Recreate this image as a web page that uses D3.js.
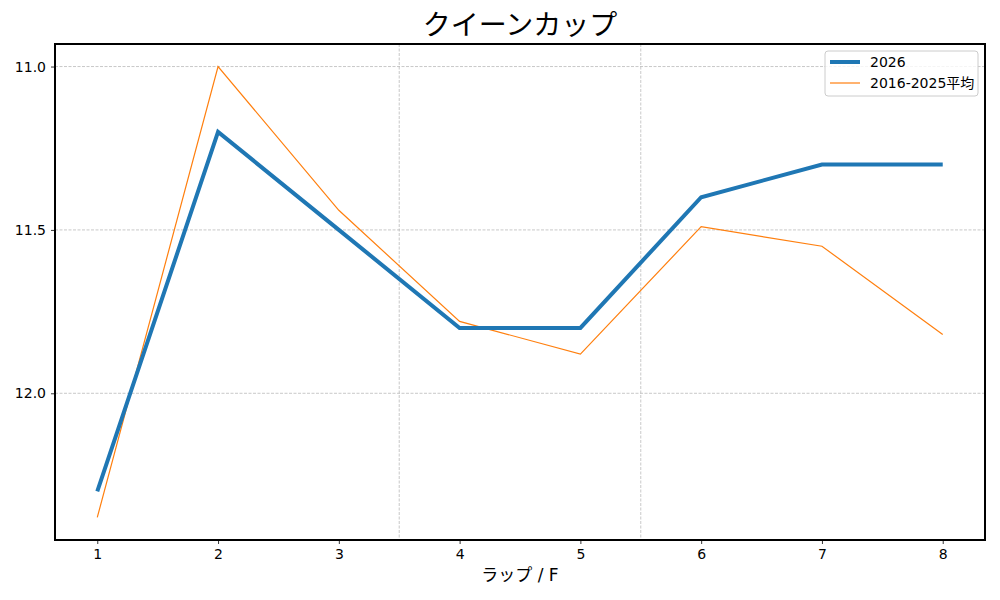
<!DOCTYPE html>
<html>
<head>
<meta charset="utf-8">
<script src="https://cdn.jsdelivr.net/npm/d3@7"></script>
<style>
  body { margin: 0; background: #fff; }
  text { font-family: "DejaVu Sans", "Noto Sans CJK JP", sans-serif; fill: #000; }
</style>
</head>
<body>
<div id="chart"></div>
<script>
// Chart data
const laps = [1, 2, 3, 4, 5, 6, 7, 8];
const times2026 = [12.3, 11.2, 11.5, 11.8, 11.8, 11.4, 11.3, 11.3];
const timesAvg = [12.38, 11.0, 11.44, 11.78, 11.88, 11.49, 11.55, 11.82];
const yTicks = [11.0, 11.5, 12.0];
const vLines = [3.5, 5.5];
const seriesNames = ['2026', '2016-2025平均'];

const W = 1000, H = 600;
const margin = { top: 44, right: 15, bottom: 60, left: 55 };
const width = W - margin.left - margin.right;
const height = H - margin.top - margin.bottom;

const svg = d3.select('#chart').append('svg')
  .attr('width', W).attr('height', H);

const g = svg.append('g')
  .attr('transform', `translate(${margin.left},${margin.top})`);

// x with matplotlib-style 5% padding
const xPad = (d3.max(laps) - d3.min(laps)) * 0.05;
const x = d3.scaleLinear()
  .domain([d3.min(laps) - xPad, d3.max(laps) + xPad])
  .range([0, width]);

// y inverted (faster lap at top)
const allY = times2026.concat(timesAvg);
const yPad = (d3.max(allY) - d3.min(allY)) * 0.05;
const y = d3.scaleLinear()
  .domain([d3.min(allY) - yPad, d3.max(allY) + yPad])
  .range([0, height]);

// grid lines
g.selectAll('.hgrid').data(yTicks).enter().append('line')
  .attr('x1', 0).attr('x2', width)
  .attr('y1', d => y(d)).attr('y2', d => y(d))
  .attr('stroke', '#b0b0b0').attr('stroke-width', 0.7)
  .attr('stroke-dasharray', '3,1.5');

g.selectAll('.vgrid').data(vLines).enter().append('line')
  .attr('x1', d => x(d)).attr('x2', d => x(d))
  .attr('y1', 0).attr('y2', height)
  .attr('stroke', '#b0b0b0').attr('stroke-width', 0.7)
  .attr('stroke-dasharray', '3,1.5');

// lines
const line = d3.line().x(d => x(d[0])).y(d => y(d[1]));

g.append('path')
  .datum(laps.map((l, i) => [l, timesAvg[i]]))
  .attr('d', line)
  .attr('fill', 'none')
  .attr('stroke', '#ff7f0e')
  .attr('stroke-width', 1.2);

g.append('path')
  .datum(laps.map((l, i) => [l, times2026[i]]))
  .attr('d', line)
  .attr('fill', 'none')
  .attr('stroke', '#1f77b4')
  .attr('stroke-width', 4);

// axes
const xAxis = g.append('g')
  .attr('transform', `translate(0,${height})`)
  .call(d3.axisBottom(x).tickValues(laps).tickFormat(d3.format('d')).tickSize(4).tickPadding(5));
const yAxis = g.append('g')
  .call(d3.axisLeft(y).tickValues(yTicks).tickFormat(d3.format('.1f')).tickSize(4).tickPadding(5));

[xAxis, yAxis].forEach(a => {
  a.select('.domain').remove();
  a.selectAll('.tick line').attr('stroke', '#000').attr('stroke-width', 0.8);
  a.selectAll('.tick text').attr('font-size', 14).attr('fill', '#000')
    .style('font-family', '"DejaVu Sans", sans-serif');
});

// frame
g.append('rect')
  .attr('width', width).attr('height', height)
  .attr('fill', 'none').attr('stroke', '#000').attr('stroke-width', 1.2)
  .attr('shape-rendering', 'crispEdges');

// title and axis label
svg.append('text')
  .attr('x', margin.left + width / 2).attr('y', 35)
  .attr('text-anchor', 'middle')
  .attr('font-size', 28)
  .style('font-family', '"Noto Sans CJK JP", sans-serif')
  .text('クイーンカップ');

svg.append('text')
  .attr('x', margin.left + width / 2).attr('y', 581)
  .attr('text-anchor', 'middle')
  .attr('font-size', 17)
  .text('ラップ / F');

// legend
const leg = g.append('g').attr('transform', `translate(${width - 160},7)`);
leg.append('rect')
  .attr('width', 153).attr('height', 45).attr('rx', 3)
  .attr('fill', '#fff').attr('fill-opacity', 0.8)
  .attr('stroke', '#ccc');
const legColors = ['#1f77b4', '#ff7f0e'];
const legWidths = [4, 1.2];
seriesNames.forEach((name, i) => {
  const ly = 11 + i * 21;
  leg.append('line')
    .attr('x1', 5).attr('x2', 35).attr('y1', ly).attr('y2', ly)
    .attr('stroke', legColors[i]).attr('stroke-width', legWidths[i]);
  leg.append('text')
    .attr('x', 45).attr('y', ly + 5)
    .attr('font-size', 14)
    .text(name);
});
</script>
</body>
</html>
